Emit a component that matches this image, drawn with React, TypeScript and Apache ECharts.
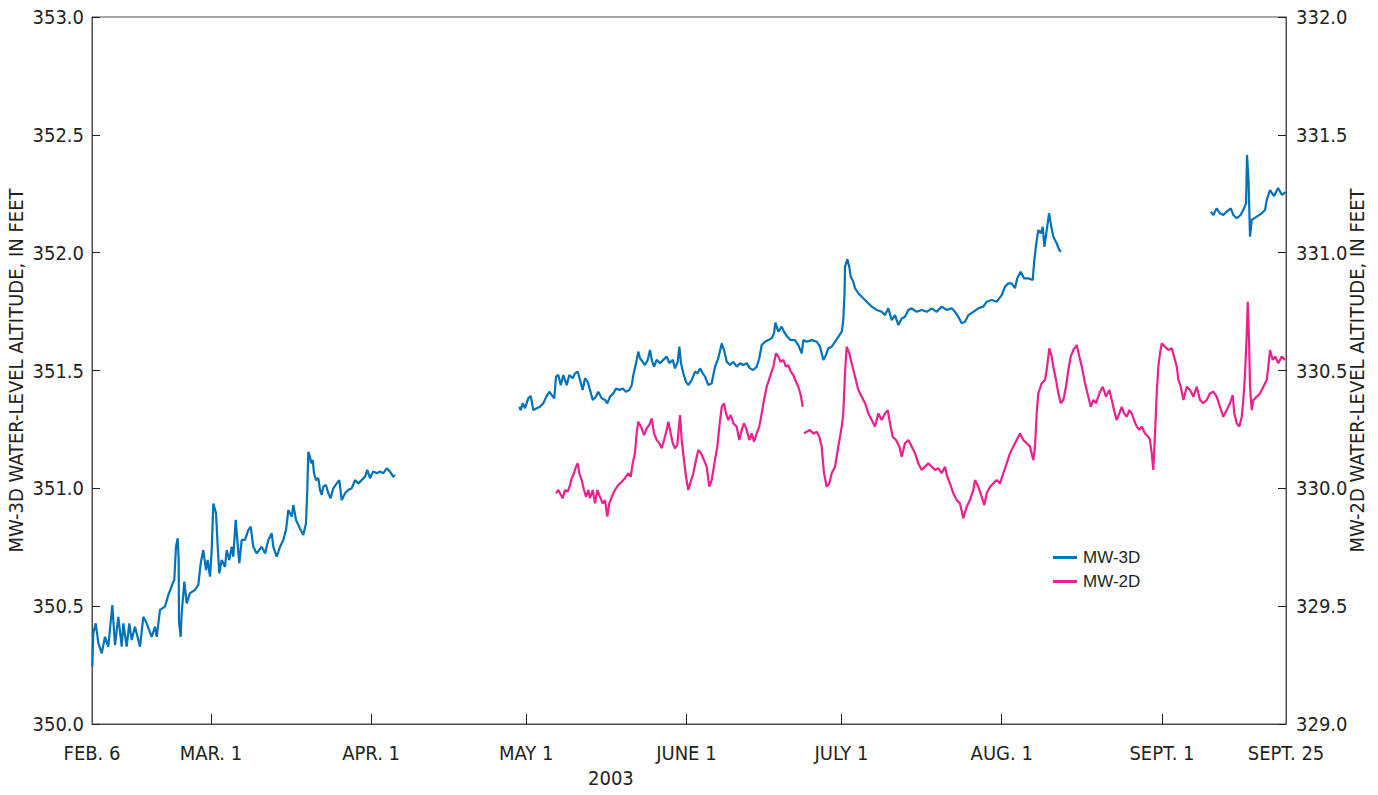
import React, { useEffect, useRef } from "react";
import * as echarts from "echarts";

// Days are counted from Feb. 6, 2003 (day 0) to Sept. 25, 2003 (day 231).
const dayMin = 0;
const dayMax = 231;

// Month tick positions (days since Feb. 6) and their labels.
const tickDays = [0, 23, 54, 84, 115, 145, 176, 207, 231];
const tickLabels = ["FEB. 6", "MAR. 1", "APR. 1", "MAY 1", "JUNE 1", "JULY 1", "AUG. 1", "SEPT. 1", "SEPT. 25"];
const yearLabel = "2003";

// Left axis (MW-3D) and right axis (MW-2D) ranges, feet.
const leftMin = 350.0;
const leftMax = 353.0;
const rightMin = 329.0;
const rightMax = 332.0;
const axisStep = 0.5;

const seriesNames = ["MW-3D", "MW-2D"];

// MW-3D water-level altitude, [day, feet]: Feb. 6 – early April.
const mw3dFebApr: [number, number][] = [
  [0.06, 350.243], [0.25, 350.385], [0.72, 350.427], [1.22, 350.344], [1.88, 350.3], [2.52, 350.37],
  [3.15, 350.328], [3.93, 350.505], [4.45, 350.335], [5.09, 350.455], [5.75, 350.328], [6.06, 350.427],
  [6.71, 350.328], [7.22, 350.427], [7.68, 350.356], [8.32, 350.413], [9.29, 350.328], [9.93, 350.455],
  [10.58, 350.427], [11.55, 350.37], [12.19, 350.413], [12.52, 350.37], [13.16, 350.484], [14.12, 350.498],
  [14.76, 350.547], [15.61, 350.597], [15.92, 350.611], [16.25, 350.752], [16.58, 350.788], [16.77, 350.696],
  [16.83, 350.434], [17.16, 350.37], [17.35, 350.47], [17.86, 350.604], [18.32, 350.512], [18.96, 350.555],
  [19.93, 350.569], [20.57, 350.59], [21.03, 350.682], [21.53, 350.738], [22.06, 350.653], [22.38, 350.696],
  [22.83, 350.625], [23.16, 350.738], [23.47, 350.936], [23.99, 350.894], [24.32, 350.752], [24.63, 350.639],
  [25.09, 350.696], [25.73, 350.667], [26.06, 350.738], [26.56, 350.696], [27.03, 350.752], [27.34, 350.71],
  [27.8, 350.866], [28.11, 350.781], [28.5, 350.682], [28.96, 350.781], [29.6, 350.781], [30.24, 350.823],
  [30.7, 350.837], [31.21, 350.752], [31.86, 350.724], [32.83, 350.752], [33.47, 350.724], [34.11, 350.781],
  [34.77, 350.809], [35.08, 350.752], [35.73, 350.71], [36.37, 350.752], [37.01, 350.781], [37.53, 350.823],
  [37.98, 350.908], [38.64, 350.88], [38.95, 350.929], [39.47, 350.866], [40.24, 350.83], [40.88, 350.802],
  [41.4, 350.852], [41.65, 350.993], [41.85, 351.155], [42.18, 351.134], [42.37, 351.106], [42.7, 351.12],
  [42.95, 351.064], [43.34, 351.035], [43.78, 351.043], [44.11, 350.993], [44.44, 350.972], [44.75, 351.007],
  [45.27, 351.014], [45.72, 350.979], [46.18, 350.958], [46.68, 351.0], [47.34, 351.021], [47.84, 351.035],
  [48.31, 350.95], [48.95, 350.979], [49.59, 350.993], [50.24, 351.0], [50.88, 351.035], [51.52, 351.021],
  [52.18, 351.035], [52.82, 351.049], [53.26, 351.078], [53.78, 351.043], [54.42, 351.071], [55.08, 351.064],
  [55.72, 351.071], [56.36, 351.064], [57.01, 351.085], [57.65, 351.071], [58.29, 351.049], [58.62, 351.057],
];

// MW-3D: early May – mid August.
const mw3dMayAug: [number, number][] = [
  [82.67, 351.346], [82.94, 351.332], [83.33, 351.361], [83.77, 351.34], [84.41, 351.382], [84.87, 351.392],
  [85.38, 351.332], [86.04, 351.34], [86.67, 351.346], [87.31, 351.361], [87.84, 351.386], [88.47, 351.41],
  [88.94, 351.396], [89.44, 351.382], [89.77, 351.474], [90.22, 351.481], [90.68, 351.438], [91.19, 351.481],
  [91.84, 351.438], [92.34, 351.481], [93.0, 351.467], [93.45, 351.488], [93.97, 351.495], [94.41, 351.46],
  [94.93, 351.417], [95.38, 351.467], [95.9, 351.452], [96.35, 351.417], [96.87, 351.375], [97.51, 351.389],
  [97.95, 351.41], [98.61, 351.382], [99.25, 351.375], [99.7, 351.361], [100.22, 351.389], [100.86, 351.403],
  [101.38, 351.424], [102.02, 351.417], [102.67, 351.424], [103.31, 351.41], [103.95, 351.417], [104.42, 351.438],
  [104.73, 351.481], [105.25, 351.531], [105.69, 351.58], [106.02, 351.552], [106.54, 351.537], [106.99, 351.523],
  [107.51, 351.545], [107.96, 351.587], [108.29, 351.545], [108.73, 351.516], [109.25, 351.545], [109.89, 351.531],
  [110.53, 351.545], [111.19, 351.559], [111.69, 351.531], [112.35, 351.545], [112.79, 351.509], [113.32, 351.537],
  [113.63, 351.601], [113.96, 351.531], [114.4, 351.488], [114.93, 351.452], [115.37, 351.438], [116.03, 351.46],
  [116.67, 351.495], [117.18, 351.488], [117.63, 351.509], [118.15, 351.488], [118.6, 351.474], [119.24, 351.438],
  [119.89, 351.446], [120.53, 351.516], [121.17, 351.552], [121.83, 351.615], [122.27, 351.587], [122.8, 351.537],
  [123.43, 351.523], [124.07, 351.537], [124.73, 351.516], [125.37, 351.531], [126.01, 351.523], [126.67, 351.531],
  [127.3, 351.509], [127.94, 351.502], [128.6, 351.516], [129.1, 351.552], [129.57, 351.608], [130.21, 351.622],
  [130.85, 351.629], [131.5, 351.637], [131.95, 351.658], [132.2, 351.703], [132.78, 351.665], [133.43, 351.686],
  [133.88, 351.665], [134.52, 351.643], [135.18, 351.629], [136.01, 351.629], [136.65, 351.608], [137.31, 351.573],
  [137.62, 351.629], [138.27, 351.622], [139.24, 351.629], [140.21, 351.622], [140.85, 351.601], [141.49, 351.545],
  [142.01, 351.566], [142.45, 351.594], [143.11, 351.601], [143.75, 351.622], [144.39, 351.643], [145.05, 351.665],
  [145.35, 351.714], [145.59, 351.829], [145.68, 351.94], [146.13, 351.972], [146.51, 351.94], [146.79, 351.898],
  [147.29, 351.877], [147.62, 351.849], [148.26, 351.828], [148.92, 351.813], [149.88, 351.792], [150.85, 351.771],
  [151.82, 351.757], [152.79, 351.749], [153.42, 351.735], [154.06, 351.764], [154.72, 351.714], [155.36, 351.735],
  [155.99, 351.693], [156.65, 351.721], [157.29, 351.728], [157.93, 351.757], [158.59, 351.764], [159.55, 351.749],
  [160.52, 351.757], [161.49, 351.749], [162.46, 351.764], [163.42, 351.749], [164.39, 351.771], [165.36, 351.757],
  [166.33, 351.764], [166.96, 351.749], [167.6, 351.728], [168.26, 351.7], [168.9, 351.707], [169.54, 351.735],
  [170.5, 351.749], [171.47, 351.764], [172.44, 351.771], [173.1, 351.792], [174.06, 351.799], [175.03, 351.792],
  [176.0, 351.82], [176.64, 351.856], [177.28, 351.87], [177.93, 351.87], [178.57, 351.849], [179.01, 351.891],
  [179.67, 351.919], [180.31, 351.891], [181.15, 351.891], [182.0, 351.884], [182.31, 351.969], [182.78, 352.054],
  [183.09, 352.096], [183.55, 352.082], [183.94, 352.11], [184.25, 352.025], [184.71, 352.096], [185.15, 352.167],
  [185.54, 352.117], [185.98, 352.068], [186.64, 352.04], [187.14, 352.011], [187.47, 352.004],
];

// MW-3D: September.
const mw3dSep: [number, number][] = [
  [216.43, 352.174], [216.94, 352.16], [217.59, 352.188], [218.23, 352.167], [218.87, 352.16], [219.53, 352.174],
  [220.31, 352.188], [220.81, 352.16], [221.47, 352.146], [222.24, 352.16], [222.88, 352.188], [223.27, 352.209],
  [223.46, 352.414], [223.75, 352.308], [224.04, 352.068], [224.37, 352.139], [225.34, 352.153], [226.3, 352.167],
  [226.94, 352.181], [227.27, 352.223], [227.91, 352.266], [228.68, 352.24], [229.46, 352.274], [230.23, 352.245],
  [230.91, 352.257],
];

// MW-2D water-level altitude, [day, feet]: May – late June.
const mw2dMayJun: [number, number][] = [
  [89.77, 329.979], [90.22, 329.993], [90.54, 329.979], [91.07, 329.958], [91.51, 329.993], [92.03, 329.986],
  [92.48, 330.014], [92.81, 330.043], [93.25, 330.064], [93.64, 330.092], [93.97, 330.106], [94.28, 330.064],
  [94.74, 330.035], [95.19, 329.993], [95.57, 329.964], [96.02, 329.993], [96.35, 329.958], [96.87, 329.993],
  [97.31, 329.936], [97.76, 329.993], [98.28, 329.964], [98.8, 329.936], [99.25, 329.95], [99.7, 329.88],
  [100.08, 329.936], [100.55, 329.964], [101.18, 329.993], [101.82, 330.014], [102.48, 330.028], [103.12, 330.043],
  [103.76, 330.064], [104.22, 330.049], [104.61, 330.106], [105.05, 330.149], [105.38, 330.233], [105.69, 330.283],
  [106.35, 330.255], [106.8, 330.226], [107.32, 330.255], [107.82, 330.269], [108.29, 330.297], [108.73, 330.233],
  [109.25, 330.205], [109.76, 330.191], [110.22, 330.17], [110.67, 330.205], [111.19, 330.248], [111.5, 330.283],
  [111.96, 330.233], [112.35, 330.191], [112.79, 330.17], [113.24, 330.184], [113.76, 330.311], [114.09, 330.205],
  [114.53, 330.12], [114.92, 330.049], [115.37, 329.993], [115.83, 330.028], [116.33, 330.064], [116.86, 330.12],
  [117.3, 330.163], [117.82, 330.149], [118.4, 330.12], [118.92, 330.092], [119.42, 330.007], [119.89, 330.035],
  [120.53, 330.12], [120.98, 330.177], [121.37, 330.262], [121.83, 330.346], [122.27, 330.361], [122.66, 330.318],
  [123.1, 330.29], [123.57, 330.311], [124.07, 330.276], [124.73, 330.262], [125.23, 330.205], [125.69, 330.248],
  [126.14, 330.276], [126.66, 330.248], [127.17, 330.205], [127.63, 330.233], [128.08, 330.198], [128.6, 330.233],
  [129.1, 330.262], [129.57, 330.318], [130.01, 330.375], [130.53, 330.431], [131.17, 330.474], [131.81, 330.516],
  [132.33, 330.573], [132.78, 330.559], [133.24, 330.537], [133.75, 330.545], [134.27, 330.516], [134.71, 330.523],
  [135.18, 330.495], [135.68, 330.481], [136.2, 330.452], [136.65, 330.431], [137.11, 330.396], [137.5, 330.346],
];

// MW-2D: late June – Sept. 25.
const mw2dJulSep: [number, number][] = [
  [137.75, 330.233], [138.27, 330.24], [138.91, 330.248], [139.55, 330.233], [140.21, 330.24], [140.71, 330.219],
  [141.17, 330.177], [141.62, 330.064], [142.14, 330.007], [142.64, 330.021], [143.11, 330.064], [143.75, 330.092],
  [144.39, 330.177], [145.05, 330.262], [145.35, 330.318], [145.68, 330.488], [146.01, 330.601], [146.51, 330.573],
  [146.97, 330.531], [147.62, 330.474], [148.26, 330.417], [148.92, 330.389], [149.56, 330.361], [150.2, 330.318],
  [150.85, 330.29], [151.49, 330.262], [152.13, 330.318], [152.79, 330.29], [153.42, 330.318], [153.95, 330.332],
  [154.39, 330.276], [154.91, 330.219], [155.55, 330.205], [156.19, 330.177], [156.65, 330.134], [157.29, 330.191],
  [157.93, 330.205], [158.59, 330.177], [159.22, 330.149], [159.86, 330.106], [160.52, 330.078], [161.16, 330.092],
  [161.8, 330.106], [162.46, 330.092], [163.1, 330.078], [163.74, 330.085], [164.39, 330.064], [165.03, 330.092],
  [165.47, 330.049], [165.99, 330.021], [166.63, 329.979], [167.29, 329.95], [167.93, 329.936], [168.57, 329.873],
  [169.22, 329.922], [169.86, 329.95], [170.5, 329.993], [170.83, 330.035], [171.47, 330.007], [172.13, 329.964],
  [172.63, 329.929], [173.1, 329.979], [173.74, 330.007], [174.38, 330.021], [175.03, 330.035], [175.67, 330.021],
  [176.31, 330.064], [176.97, 330.106], [177.6, 330.149], [178.24, 330.177], [178.9, 330.205], [179.54, 330.233],
  [180.18, 330.205], [180.84, 330.191], [181.47, 330.177], [182.11, 330.12], [182.44, 330.177], [182.77, 330.318],
  [183.08, 330.403], [183.73, 330.446], [184.37, 330.46], [184.7, 330.502], [185.21, 330.594], [185.67, 330.559],
  [185.98, 330.516], [186.51, 330.46], [186.95, 330.403], [187.42, 330.361], [187.92, 330.375], [188.44, 330.431],
  [188.89, 330.502], [189.35, 330.559], [189.86, 330.587], [190.52, 330.608], [191.02, 330.559], [191.49, 330.516],
  [192.12, 330.446], [192.76, 330.389], [193.23, 330.346], [193.73, 330.375], [194.25, 330.361], [194.89, 330.403],
  [195.55, 330.431], [196.18, 330.389], [196.82, 330.417], [197.29, 330.375], [197.73, 330.332], [198.25, 330.29],
  [198.76, 330.318], [199.22, 330.346], [199.67, 330.318], [200.19, 330.304], [200.69, 330.332], [201.16, 330.318],
  [201.6, 330.29], [202.12, 330.262], [202.62, 330.248], [203.09, 330.262], [203.72, 330.233], [204.36, 330.219],
  [204.69, 330.205], [205.02, 330.149], [205.33, 330.078], [205.66, 330.233], [205.99, 330.403], [206.3, 330.516],
  [206.63, 330.573], [206.96, 330.615], [207.6, 330.601], [208.24, 330.587], [208.9, 330.594], [209.34, 330.559],
  [209.87, 330.516], [210.18, 330.46], [210.64, 330.431], [211.15, 330.375], [211.8, 330.431], [212.44, 330.417],
  [213.08, 330.389], [213.74, 330.431], [214.36, 330.375], [215.0, 330.361], [215.66, 330.375], [216.3, 330.403],
  [216.94, 330.41], [217.59, 330.389], [218.23, 330.346], [218.87, 330.304], [219.53, 330.332], [220.17, 330.361],
  [220.69, 330.396], [221.0, 330.318], [221.47, 330.276], [221.97, 330.262], [222.44, 330.304], [222.75, 330.375],
  [223.08, 330.488], [223.41, 330.658], [223.6, 330.792], [223.85, 330.629], [224.04, 330.431], [224.37, 330.332],
  [224.69, 330.375], [225.34, 330.389], [225.98, 330.403], [226.62, 330.431], [227.27, 330.46], [227.58, 330.516],
  [227.91, 330.587], [228.43, 330.545], [228.88, 330.559], [229.52, 330.531], [230.17, 330.559], [230.81, 330.545],
];

// Joins record segments with an empty point so the line breaks at data gaps.
function joinSegments(segments: [number, number][][]): (number | string)[][] {
  const out: (number | string)[][] = [];
  segments.forEach((seg, i) => {
    if (i > 0) {
      const prev = segments[i - 1];
      out.push([(prev[prev.length - 1][0] + seg[0][0]) / 2, "-"]);
    }
    seg.forEach((p) => out.push([p[0], p[1]]));
  });
  return out;
}

const BLUE = "#0072bc";
const PINK = "#ec1f8e";
const INK = "#231f20";
const AXIS = "#4d4d4d";
const NARROW = "'DejaVu Sans Condensed', 'Liberation Sans Narrow', sans-serif";

export default function App() {
  const ref = useRef<HTMLDivElement>(null);

  useEffect(() => {
    if (!ref.current) return;
    const chart = echarts.init(ref.current, undefined, { renderer: "svg" });

    const labelFor = (v: number) => {
      const i = tickDays.indexOf(Math.round(v));
      return i >= 0 ? tickLabels[i] : "";
    };

    chart.setOption({
      animation: false,
      backgroundColor: "#ffffff",
      grid: {
        left: 92,
        right: 92,
        top: 17,
        bottom: 71,
        containLabel: false,
        outerBoundsMode: "none",
        show: true,
        borderColor: AXIS,
        borderWidth: 1,
        backgroundColor: "transparent",
      },
      legend: {
        orient: "vertical",
        left: 1053,
        top: 549,
        padding: 0,
        itemWidth: 24,
        itemHeight: 3,
        itemGap: 7,
        icon: "rect",
        data: seriesNames,
        textStyle: {
          fontFamily: "'Liberation Sans', Arial, sans-serif",
          fontSize: 17,
          color: INK,
          padding: [0, 0, 0, 1],
        },
      },
      xAxis: {
        type: "value",
        min: dayMin,
        max: dayMax,
        splitLine: { show: false },
        axisLine: { show: true, lineStyle: { color: AXIS, width: 1 } },
        axisTick: {
          show: true,
          inside: true,
          length: 10,
          customValues: tickDays.slice(1, -1),
          lineStyle: { color: INK, width: 1 },
        },
        axisLabel: {
          customValues: tickDays,
          formatter: (v: number) => labelFor(v),
          margin: 19,
          fontFamily: NARROW,
          fontSize: 20,
          color: INK,
        },
      },
      yAxis: [
        {
          type: "value",
          min: leftMin,
          max: leftMax,
          interval: axisStep,
          position: "left",
          name: "MW-3D WATER-LEVEL ALTITUDE, IN FEET",
          nameLocation: "middle",
          nameRotate: 90,
          nameGap: 66,
          nameMoveOverlap: false,
          nameTextStyle: { fontFamily: NARROW, fontSize: 20, color: INK },
          splitLine: { show: false },
          axisLine: { show: true, lineStyle: { color: AXIS, width: 1 } },
          axisTick: { show: true, inside: true, length: 8, lineStyle: { color: INK } },
          axisLabel: {
            margin: 8,
            formatter: (v: number) => v.toFixed(1),
            fontFamily: NARROW,
            fontSize: 20,
            color: INK,
          },
        },
        {
          type: "value",
          min: rightMin,
          max: rightMax,
          interval: axisStep,
          position: "right",
          name: "MW-2D WATER-LEVEL ALTITUDE, IN FEET",
          nameLocation: "middle",
          nameRotate: 90,
          nameGap: 61,
          nameMoveOverlap: false,
          nameTextStyle: { fontFamily: NARROW, fontSize: 20, color: INK },
          splitLine: { show: false },
          axisLine: { show: true, lineStyle: { color: AXIS, width: 1 } },
          axisTick: { show: true, inside: true, length: 8, lineStyle: { color: INK } },
          axisLabel: {
            margin: 10,
            formatter: (v: number) => v.toFixed(1),
            fontFamily: NARROW,
            fontSize: 20,
            color: INK,
          },
        },
      ],
      graphic: [
        {
          type: "text",
          left: 607 - 19,
          top: 768,
          style: { text: yearLabel, font: `20px ${NARROW}`, fill: INK },
        },
      ],
      series: [
        {
          name: seriesNames[0],
          type: "line",
          yAxisIndex: 0,
          showSymbol: false,
          connectNulls: false,
          color: BLUE,
          lineStyle: { color: BLUE, width: 2.2 },
          data: joinSegments([mw3dFebApr, mw3dMayAug, mw3dSep]),
        },
        {
          name: seriesNames[1],
          type: "line",
          yAxisIndex: 1,
          showSymbol: false,
          connectNulls: false,
          color: PINK,
          lineStyle: { color: PINK, width: 2.2 },
          data: joinSegments([mw2dMayJun, mw2dJulSep]),
        },
      ],
    });

    return () => chart.dispose();
  }, []);

  return (
    <div
      ref={ref}
      style={{ position: "absolute", left: 0, top: 0, width: 1378, height: 795, background: "#fff" }}
    />
  );
}
